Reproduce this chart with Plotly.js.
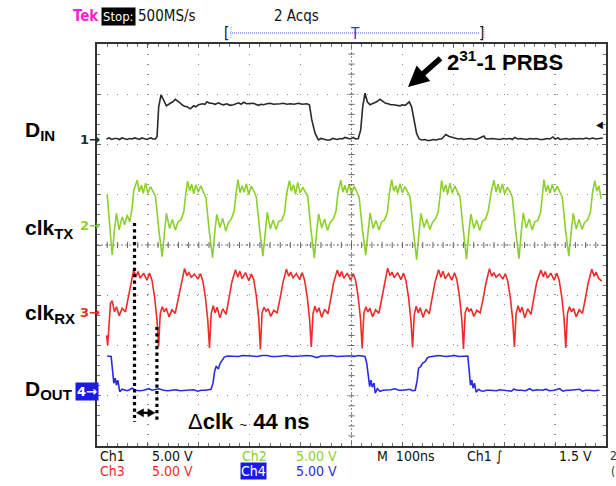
<!DOCTYPE html>
<html>
<head>
<meta charset="utf-8">
<script src="https://cdn.plot.ly/plotly-3.0.1.min.js"></script>
<style>
  html, body { margin: 0; padding: 0; background: #fff; }
  #scope { width: 616px; height: 486px; }
</style>
</head>
<body>
<div id="scope"></div>
<script>
// Time axis in ns (100 ns/div, 10 divisions); vertical axis in screen divisions (5 V/div, 8 divisions).

// Ch1: D_IN, 2^31-1 PRBS input data
const dinT = [18.6, 24, 29, 34, 39.6, 44, 49, 54, 59.2, 64, 69, 74, 78.8, 84, 88, 93, 98.4, 102, 106, 110, 114.7, 118,
  121.2, 125.9, 131, 136.3, 144.1, 149, 154, 158.5, 163, 167.1, 172, 176.9, 183.4, 189.8, 194, 199.6, 207, 212, 216.1, 221,
  225.9, 232, 238.9, 244, 248.7, 255, 261, 268.3, 273, 278.1, 283, 287.9, 294, 300, 307.5, 312, 317.3, 322, 327.1, 334,
  340.2, 347, 353.4, 360, 366.3, 373, 379.5, 387, 395.7, 404, 412.2, 417.3, 422, 428.5, 435, 440, 444.8, 451, 457.9, 463,
  467.7, 472, 477.5, 482, 487.3, 492, 497, 503.6, 508, 513.4, 518.1, 522, 526.5, 531.1, 536.3, 542.8, 549.5, 556, 562.5,
  567, 572.2, 577, 582, 588, 595.2, 600, 605, 609, 613.4, 618.1, 622.6, 627.9, 633, 638, 644.2, 649, 654, 660, 667.1, 672,
  676.9, 681, 685.4, 691.8, 699.7, 704, 709.5, 716, 720, 725.9, 732, 738.9, 745, 752, 759.9, 763, 768.3, 776, 784.8, 792,
  798, 804.4, 812, 816, 820.7, 827, 831, 837, 845, 850, 856.6, 863, 870, 876.2, 884, 890, 895.8, 900, 905.6, 910, 915.4,
  922, 928, 935, 942, 948, 954.6, 961, 967, 974.2, 980, 987, 993.8];
const dinV = [2.11, 2.13, 2.10, 2.12, 2.12, 2.10, 2.13, 2.11, 2.10, 2.12, 2.11, 2.13, 2.11, 2.10, 2.13, 2.11, 2.10, 2.12, 2.13, 2.11, 2.11, 2.16,
  2.75, 2.99, 2.89, 2.77, 2.82, 2.85, 2.90, 2.87, 2.83, 2.79, 2.76, 2.75, 2.71, 2.77, 2.75, 2.79, 2.81, 2.80, 2.85, 2.82,
  2.82, 2.80, 2.83, 2.80, 2.79, 2.81, 2.78, 2.79, 2.81, 2.83, 2.80, 2.84, 2.81, 2.82, 2.82, 2.80, 2.78, 2.80, 2.79, 2.81,
  2.82, 2.80, 2.80, 2.81, 2.82, 2.80, 2.81, 2.80, 2.82, 2.80, 2.81, 2.79, 2.49, 2.22, 2.09, 2.12, 2.11, 2.09, 2.09, 2.12,
  2.11, 2.10, 2.12, 2.11, 2.14, 2.12, 2.11, 2.14, 2.11, 2.12, 2.29, 2.75, 3.02, 2.85, 2.79, 2.82, 2.85, 2.90, 2.85,
  2.82, 2.81, 2.79, 2.79, 2.78, 2.77, 2.79, 2.78, 2.81, 2.85, 2.75, 2.49, 2.22, 2.11, 2.09, 2.10, 2.08, 2.08, 2.10, 2.09, 2.11,
  2.11, 2.15, 2.20, 2.16, 2.14, 2.12, 2.11, 2.12, 2.10, 2.11, 2.12, 2.11, 2.10, 2.13, 2.17, 2.12, 2.11, 2.12, 2.11, 2.10,
  2.12, 2.11, 2.12, 2.10, 2.14, 2.11, 2.12, 2.11, 2.10, 2.12, 2.11, 2.12, 2.10, 2.10, 2.12, 2.11, 2.15, 2.11, 2.13, 2.10, 2.11,
  2.12, 2.10, 2.12, 2.11, 2.12, 2.11, 2.13, 2.11, 2.13, 2.11, 2.12, 2.13];

// Ch2: transmitter clock
const clkTxT = [20, 25.1, 29.8, 34.3, 38.2, 43.5, 49.4, 54.5, 59.2, 64.3, 69, 72.2,
  79, 83, 87, 91, 95.5, 100, 105, 110.5, 115, 121.5, 128, 133, 136.5, 142.5, 148, 154, 159, 165, 170.5, 174.5,
  178, 182, 186, 190, 194.5, 199, 204, 209.5, 214, 220.5, 227, 232, 235.5, 241.5, 247, 253, 258, 264, 269.5, 273.5,
  277, 281, 285, 289, 293.5, 298, 303, 308.5, 313, 319.5, 326, 331, 334.5, 340.5, 346, 352, 357, 363, 368.5, 372.5,
  378, 382, 386, 390, 394.5, 399, 404, 409.5, 414, 420.5, 427, 432, 435.5, 441.5, 447, 453, 458, 464, 469.5, 473.5,
  479, 483, 487, 491, 495.5, 500, 505, 510.5, 515, 521.5, 528, 533, 536.5, 542.5, 548, 554, 559, 565, 570.5, 574.5,
  579, 583, 587, 591, 595.5, 600, 605, 610.5, 615, 621.5, 628, 633, 636.5, 642.5, 648, 654, 659, 665, 670.5, 674.5,
  677, 681, 685, 689, 693.5, 698, 703, 708.5, 713, 719.5, 726, 731, 734.5, 740.5, 746, 752, 757, 763, 768.5, 774.5,
  780, 784, 788, 792, 796.5, 801, 806, 811.5, 816, 822.5, 829, 834, 837.5, 843.5, 849, 855, 860, 866, 871.5, 875.5,
  878, 882, 886, 890, 894.5, 899, 904, 909.5, 914, 920.5, 927, 932, 935.5, 941.5, 947, 953, 958, 964, 969.5, 973.5,
  978, 982, 986, 990.5];
const clkTxV = [1.00, 0.43, -0.20, 0.30, 0.63, 0.30, 0.56, 0.40, 0.60, 0.46, 0.73, 1.09,
  1.29, 1.06, 1.19, 1.03, 1.23, 1.03, 1.16, 1.06, 0.96, 0.30, -0.23, 0.30, 0.63, 0.33, 0.51, 0.30, 0.46, 0.50, 0.66, 1.03,
  1.27, 1.08, 1.21, 1.02, 1.20, 1.05, 1.18, 1.04, 0.94, 0.28, -0.25, 0.32, 0.61, 0.35, 0.53, 0.28, 0.44, 0.52, 0.68, 1.05,
  1.30, 1.04, 1.18, 1.05, 1.22, 1.01, 1.17, 1.07, 0.95, 0.31, -0.22, 0.29, 0.65, 0.32, 0.50, 0.31, 0.47, 0.49, 0.64, 1.02,
  1.28, 1.07, 1.20, 1.01, 1.24, 1.04, 1.15, 1.05, 0.97, 0.29, -0.26, 0.31, 0.62, 0.34, 0.52, 0.29, 0.45, 0.51, 0.67, 1.04,
  1.29, 1.05, 1.19, 1.04, 1.21, 1.02, 1.17, 1.06, 0.95, 0.30, -0.20, 0.30, 0.64, 0.33, 0.49, 0.30, 0.46, 0.50, 0.65, 1.03,
  1.30, 1.07, 1.18, 1.03, 1.22, 1.04, 1.16, 1.05, 0.96, 0.28, -0.29, 0.28, 0.63, 0.35, 0.51, 0.31, 0.45, 0.52, 0.66, 1.02,
  1.28, 1.06, 1.20, 1.02, 1.23, 1.03, 1.18, 1.04, 0.97, 0.31, -0.28, 0.30, 0.62, 0.33, 0.50, 0.29, 0.47, 0.51, 0.67, 1.05,
  1.29, 1.05, 1.21, 1.04, 1.22, 1.02, 1.15, 1.06, 0.95, 0.29, -0.27, 0.31, 0.64, 0.34, 0.52, 0.30, 0.46, 0.49, 0.65, 1.03,
  1.30, 1.06, 1.19, 1.03, 1.21, 1.05, 1.17, 1.05, 0.96, 0.30, -0.22, 0.29, 0.63, 0.32, 0.51, 0.31, 0.45, 0.50, 0.66, 1.04,
  1.28, 1.07, 1.18, 0.92];

// Ch3: receiver (recovered) clock
const clkRxT = [19, 21, 26.5, 29.8, 34.3, 38.2, 43.5, 49.4, 55.9, 62.4, 67.1,
  72, 76.7, 80.6, 85.1, 91.6, 98.2, 103.3, 108, 113.1, 117.8, 121, 124.3, 128.2, 132.2, 136.1, 141.4, 147.3, 153.7, 159, 164.9,
  172, 176.7, 180.6, 185.1, 191.6, 198.2, 203.3, 208, 213.1, 217.8, 221, 224.3, 228.2, 232.2, 236.1, 241.4, 247.3, 253.7, 259, 264.9,
  272, 276.7, 280.6, 285.1, 291.6, 298.2, 303.3, 308, 313.1, 317.8, 321, 324.3, 328.2, 332.2, 336.1, 341.4, 347.3, 353.7, 359, 364.9,
  372, 376.7, 380.6, 385.1, 391.6, 398.2, 403.3, 408, 413.1, 417.8, 421, 424.3, 428.2, 432.2, 436.1, 441.4, 447.3, 453.7, 459, 464.9,
  472, 476.7, 480.6, 485.1, 491.6, 498.2, 503.3, 508, 513.1, 517.8, 521, 524.3, 528.2, 532.2, 536.1, 541.4, 547.3, 553.7, 559, 564.9,
  571, 575.7, 579.6, 584.1, 590.6, 597.2, 602.3, 607, 612.1, 616.8, 620, 623.3, 627.2, 631.2, 635.1, 640.4, 646.3, 652.7, 658, 663.9,
  671, 675.7, 679.6, 684.1, 690.6, 697.2, 702.3, 707, 712.1, 716.8, 720, 723.3, 727.2, 731.2, 735.1, 740.4, 746.3, 752.7, 758, 763.9,
  771, 775.7, 779.6, 784.1, 790.6, 797.2, 802.3, 807, 812.1, 816.8, 820, 823.3, 827.2, 831.2, 835.1, 840.4, 846.3, 852.7, 858, 863.9,
  872, 876.7, 880.6, 885.1, 891.6, 898.2, 903.3, 908, 913.1, 917.8, 921, 924.3, 928.2, 932.2, 936.1, 941.4, 947.3, 953.7, 959, 964.9,
  972, 976.7, 980.6, 985.1, 991.6];
const clkRxV = [-1.80, -2.00, -1.16, -1.11, -1.33, -1.23, -1.41, -1.26, -1.33, -1.00, -0.70,
  -0.50, -0.63, -0.53, -0.66, -0.56, -0.70, -0.56, -0.70, -1.03, -1.49, -2.02, -1.36, -1.23, -1.33, -1.26, -1.43, -1.29, -1.36, -1.09, -0.76,
  -0.47, -0.61, -0.55, -0.64, -0.58, -0.68, -0.57, -0.72, -1.05, -1.52, -2.05, -1.38, -1.21, -1.35, -1.24, -1.45, -1.27, -1.38, -1.07, -0.74,
  -0.49, -0.64, -0.52, -0.67, -0.55, -0.71, -0.58, -0.69, -1.02, -1.47, -2.08, -1.35, -1.24, -1.32, -1.27, -1.42, -1.30, -1.35, -1.10, -0.77,
  -0.48, -0.62, -0.54, -0.65, -0.57, -0.69, -0.55, -0.71, -1.04, -1.50, -2.03, -1.37, -1.22, -1.34, -1.25, -1.44, -1.28, -1.37, -1.08, -0.75,
  -0.50, -0.63, -0.53, -0.66, -0.56, -0.70, -0.57, -0.70, -1.03, -1.48, -2.06, -1.36, -1.23, -1.33, -1.26, -1.43, -1.29, -1.36, -1.09, -0.76,
  -0.46, -0.61, -0.54, -0.65, -0.55, -0.69, -0.56, -0.71, -1.04, -1.51, -2.04, -1.38, -1.22, -1.35, -1.25, -1.44, -1.28, -1.37, -1.08, -0.75,
  -0.49, -0.64, -0.52, -0.67, -0.57, -0.70, -0.55, -0.69, -1.02, -1.49, -2.07, -1.35, -1.24, -1.32, -1.27, -1.42, -1.30, -1.35, -1.10, -0.77,
  -0.47, -0.62, -0.55, -0.64, -0.58, -0.68, -0.57, -0.72, -1.05, -1.50, -2.03, -1.37, -1.21, -1.34, -1.24, -1.45, -1.27, -1.38, -1.07, -0.74,
  -0.50, -0.63, -0.53, -0.66, -0.56, -0.70, -0.56, -0.70, -1.03, -1.49, -2.05, -1.36, -1.23, -1.33, -1.26, -1.43, -1.29, -1.36, -1.09, -0.76,
  -0.48, -0.62, -0.54, -0.66, -0.72];

// Ch4: recovered output data
const doutT = [20, 27.8, 29.8, 33, 35.7, 38.2, 40.8, 44.7, 49.4, 54, 59.2, 64, 69, 75.5, 84, 91.8, 101.6, 108.2, 115, 121.2, 131,
  139, 147.5, 155, 163.7, 173, 183.4, 190, 197.7, 205, 212.8, 224, 227.9, 231, 234.3, 238.3, 242.2, 246.1, 250, 256, 261.8, 270,
  278.1, 286, 294.5, 304, 314.2, 324, 333.8, 343, 353.4, 363, 373, 383, 392.6, 402, 412.2, 422, 431.8, 441, 451.4, 461, 471, 481,
  490.6, 497.1, 505, 513.4, 520, 526.5, 529.9, 533, 535.7, 538.3, 540.8, 544.2, 546.7, 550.7, 556, 562, 569.1, 577, 585.4, 593,
  601.6, 608, 614.8, 620, 625.2, 629.1, 631.8, 635.8, 639.7, 644.8, 648.7, 652, 657.4, 663, 670.3, 678, 686.7, 694, 703, 711,
  719.3, 724, 728.5, 731.1, 733.8, 736.4, 738.9, 741.7, 744.8, 749.5, 754, 758.5, 765, 771.7, 778, 784.8, 791, 797.8, 806,
  814.2, 818.7, 826, 833.8, 842, 850.1, 856.6, 863, 869.7, 876, 881.5, 889.3, 898, 908.9, 915.4, 922, 928.5, 938, 948.2, 953.4,
  960, 967.8, 976, 987.4];
const doutV = [-2.21, -2.22, -2.42, -2.75, -2.65, -2.79, -2.69, -2.92, -2.87, -2.89, -2.90, -2.88, -2.85, -2.89, -2.90, -2.89, -2.86, -2.89, -2.88, -2.86, -2.89,
  -2.90, -2.89, -2.88, -2.90, -2.89, -2.89, -2.88, -2.91, -2.89, -2.89, -2.87, -2.75, -2.52, -2.41, -2.47, -2.35, -2.29, -2.23, -2.21, -2.21, -2.22,
  -2.22, -2.20, -2.20, -2.21, -2.22, -2.20, -2.20, -2.22, -2.22, -2.21, -2.20, -2.22, -2.22, -2.21, -2.20, -2.21, -2.24, -2.21, -2.21, -2.20, -2.22, -2.21,
  -2.21, -2.21, -2.22, -2.20, -2.21, -2.22, -2.35, -2.62, -2.82, -2.69, -2.83, -2.75, -2.95, -2.86, -2.91, -2.89, -2.89, -2.88, -2.86, -2.89,
  -2.89, -2.88, -2.87, -2.90, -2.89, -2.69, -2.45, -2.42, -2.35, -2.32, -2.25, -2.23, -2.22, -2.21, -2.20, -2.21, -2.22, -2.21, -2.20, -2.22,
  -2.22, -2.21, -2.21, -2.49, -2.79, -2.69, -2.85, -2.75, -2.93, -2.87, -2.90, -2.91, -2.89, -2.89, -2.90, -2.90, -2.88, -2.89, -2.89,
  -2.91, -2.87, -2.89, -2.89, -2.90, -2.86, -2.90, -2.88, -2.89, -2.89, -2.87, -2.90, -2.89, -2.86, -2.91, -2.89, -2.89, -2.88, -2.87, -2.91,
  -2.89, -2.89, -2.90, -2.89];

// Channel ground-reference positions (div) and trigger level
const chOffsets = [2.09, 0.38, -1.35, -2.91];
const chBase = ['D', 'clk', 'clk', 'D'];
const chSub = ['IN', 'TX', 'RX', 'OUT'];
const chColors = ['#2a2a2a', '#8dd02c', '#ee2b2b', '#2b2be0'];
const voltsPerDiv = 5.0;
const triggerLevel = 1.5;      // V on Ch1
const deltaClkNs = 44;         // measured clock offset
const deltaClkCenterNs = 95.7; // centre between the two cursor lines

const W = 616, H = 486, ML = 97, MR = 10, MT = 44, MB = 40;
const PW = W - ML - MR, PH = H - MT - MB;
const xp = px => (px - ML) / PW;
const yp = py => (H - MB - py) / PH;
const nsPerPx = 1000 / PW, divPerPx = 8 / PH;

const scopeFont = 'DejaVu Sans Condensed, DejaVu Sans, sans-serif';
const labelFont = 'Liberation Sans, Arial, sans-serif';

function trace(t, v, color) {
  return { x: t, y: v, type: 'scatter', mode: 'lines', hoverinfo: 'skip',
           line: { color: color, width: 1.6 } };
}
const traces = [
  trace(dinT, dinV, chColors[0]),
  trace(clkTxT, clkTxV, chColors[1]),
  trace(clkRxT, clkRxV, chColors[2]),
  trace(doutT, doutV, chColors[3])
];

// Graticule centre crosshair with minor ticks
const shapes = [];
const gridGray = '#8c8c8c';
shapes.push({ type: 'line', xref: 'x', yref: 'y', x0: 0, x1: 1000, y0: 0, y1: 0,
              line: { color: gridGray, width: 1, dash: '2px,2px' } });
shapes.push({ type: 'line', xref: 'x', yref: 'y', x0: 500, x1: 500, y0: -4, y1: 4,
              line: { color: gridGray, width: 1, dash: '2px,2px' } });
for (let t = 20; t < 1000; t += 20) {
  shapes.push({ type: 'line', xref: 'x', yref: 'y', x0: t, x1: t, y0: -3 * divPerPx, y1: 3 * divPerPx,
                line: { color: '#666', width: 1 } });
}
for (let k = -19; k <= 19; k++) {
  const d = k * 0.2;
  if (Math.abs(d) < 1e-6) continue;
  shapes.push({ type: 'line', xref: 'x', yref: 'y', x0: 500 - 3 * nsPerPx, x1: 500 + 3 * nsPerPx, y0: d, y1: d,
                line: { color: '#666', width: 1 } });
}

// Δclk cursor lines and the double-headed arrow between them
const curL = deltaClkCenterNs - deltaClkNs / 2, curR = deltaClkCenterNs + deltaClkNs / 2;
shapes.push({ type: 'line', xref: 'x', yref: 'y', x0: curL, x1: curL, y0: 0.44, y1: -3.52,
              line: { color: '#000', width: 3.2, dash: 'dot' } });
shapes.push({ type: 'line', xref: 'x', yref: 'y', x0: curR, x1: curR, y0: -1.63, y1: -3.52,
              line: { color: '#000', width: 3.2, dash: 'dot' } });
const arrY = -3.34, headL = 7 * nsPerPx, headH = 4 * divPerPx;
const aL = curL + 2 * nsPerPx, aR = curR - 2 * nsPerPx;
shapes.push({ type: 'line', xref: 'x', yref: 'y', x0: aL + headL * 0.6, x1: aR - headL * 0.6, y0: arrY, y1: arrY,
              line: { color: '#000', width: 2.4 } });
shapes.push({ type: 'path', xref: 'x', yref: 'y', fillcolor: '#000', line: { color: '#000', width: 0.5 },
              path: `M${aL},${arrY} L${aL + headL},${arrY + headH} L${aL + headL},${arrY - headH} Z` });
shapes.push({ type: 'path', xref: 'x', yref: 'y', fillcolor: '#000', line: { color: '#000', width: 0.5 },
              path: `M${aR},${arrY} L${aR - headL},${arrY + headH} L${aR - headL},${arrY - headH} Z` });

// Record-length bar in the header
shapes.push({ type: 'line', xref: 'paper', yref: 'paper', x0: xp(230), x1: xp(479), y0: yp(33), y1: yp(33),
              line: { color: '#4a5ee8', width: 1, dash: '1px,1px' } });
shapes.push({ type: 'line', xref: 'paper', yref: 'paper', x0: xp(231), x1: xp(231), y0: yp(27), y1: yp(39),
              line: { color: '#9aa6f0', width: 1, dash: '1px,1px' } });
shapes.push({ type: 'line', xref: 'paper', yref: 'paper', x0: xp(484), x1: xp(484), y0: yp(27), y1: yp(39),
              line: { color: '#9aa6f0', width: 1, dash: '1px,1px' } });

function txt(text, px, py, color, size, extra) {
  return Object.assign({ text: text, x: xp(px), y: yp(py), xref: 'paper', yref: 'paper',
    xanchor: 'left', yanchor: 'middle', showarrow: false, borderpad: 0,
    font: { family: scopeFont, size: size || 14, color: color || '#111' } }, extra || {});
}

const annotations = [
  // header
  txt('<b>Tek</b>', 72, 16, '#ff1fd8', 15),
  txt('Stop:', 101, 16, '#fff', 13, { bgcolor: '#000', borderpad: 1 }),
  txt('500MS/s', 137, 16, '#111', 15),
  txt('2 Acqs', 273, 16, '#111', 15),
  txt('[', 223, 33, '#111', 15),
  txt(']', 478, 33, '#111', 15),
  txt('T', 355, 34, '#1f3ae0', 15, { xanchor: 'center' }),
  // status lines
  txt('Ch1', 99, 456, '#111', 14),
  txt('5.00 V', 151, 456, '#111', 14),
  txt('Ch2', 241, 456, chColors[1], 14),
  txt('5.00 V', 295, 456, chColors[1], 14),
  txt('M  100ns', 376, 456, '#111', 14),
  txt('Ch1 \u222B', 466, 456, '#111', 14),
  txt('1.5 V', 558, 456, '#111', 14),
  txt('2', 609, 456, '#333', 12),
  txt('Ch3', 99, 471, chColors[2], 14),
  txt('5.00 V', 151, 471, chColors[2], 14),
  txt('Ch4', 240, 471, '#fff', 14, { bgcolor: '#1a1ae6', borderpad: 0 }),
  txt('5.00 V', 295, 471, chColors[3], 14),
  txt('(', 610, 472, '#333', 12),
  // annotations on the traces
  txt('<b>2<sup>31</sup>-1 PRBS</b>', 446, 61, '#000', 22, { font: { family: labelFont, size: 22, color: '#000' } }),
  { text: '', x: xp(408), y: yp(87), xref: 'paper', yref: 'paper', showarrow: true,
    ax: 34, ay: -30, arrowhead: 2, arrowsize: 0.75, arrowwidth: 5.5, arrowcolor: '#000', standoff: 0 },
  txt('\u0394<b>clk</b> <span style="font-size:13px">~</span> <b>44 ns</b>', 187, 421, '#000', 22,
      { font: { family: labelFont, size: 22, color: '#000' } }),
  // trigger level marker
  { text: '\u25C0', x: 1, y: chOffsets[0] + triggerLevel / voltsPerDiv, xref: 'paper', yref: 'y',
    xanchor: 'right', yanchor: 'middle', showarrow: false, xshift: -1,
    font: { family: scopeFont, size: 10, color: '#111' } }
];

// Signal names and ground markers
const nameY = [131, 229, 314, 390];
chBase.forEach((n, i) => {
  const label = '<b>' + n + '</b><sub><b><span style="font-size:15px">' + chSub[i] + '</span></b></sub>';
  annotations.push(txt(label, 24, nameY[i], '#000', 21, { font: { family: labelFont, size: 21, color: '#000' } }));
});
chOffsets.forEach((off, i) => {
  const last = i === 3;
  annotations.push({ text: '<b>' + (i + 1) + '\u2192</b>', x: xp(last ? 75 : 78), y: off, xref: 'paper', yref: 'y',
    xanchor: 'left', yanchor: 'middle', showarrow: false, borderpad: 1,
    bgcolor: last ? '#1a1ae6' : 'rgba(0,0,0,0)',
    font: { family: 'DejaVu Sans, sans-serif', size: 13, color: last ? '#fff' : chColors[i] } });
});

const axisCommon = {
  showticklabels: false, zeroline: false, showgrid: true, gridcolor: gridGray, gridwidth: 1.3,
  griddash: '1.3px,8.7px', showline: true, linecolor: '#333', linewidth: 1.6, mirror: 'allticks',
  ticks: 'inside', ticklen: 4, tickcolor: '#666', tickwidth: 1, fixedrange: true
};

const layout = {
  width: W, height: H,
  margin: { l: ML, r: MR, t: MT, b: MB, pad: 0 },
  paper_bgcolor: '#fff', plot_bgcolor: '#fff',
  showlegend: false,
  xaxis: Object.assign({}, axisCommon, { range: [0, 1000], tick0: 0, dtick: 100,
    minor: { dtick: 20, tick0: 0, ticks: 'inside', ticklen: 3, tickcolor: '#777', showgrid: false } }),
  yaxis: Object.assign({}, axisCommon, { range: [-4, 4], tick0: 0, dtick: 1,
    minor: { dtick: 0.2, tick0: 0, ticks: 'inside', ticklen: 3, tickcolor: '#777', showgrid: false } }),
  shapes: shapes,
  annotations: annotations
};

Plotly.newPlot('scope', traces, layout, { staticPlot: true, displayModeBar: false });
</script>
</body>
</html>
